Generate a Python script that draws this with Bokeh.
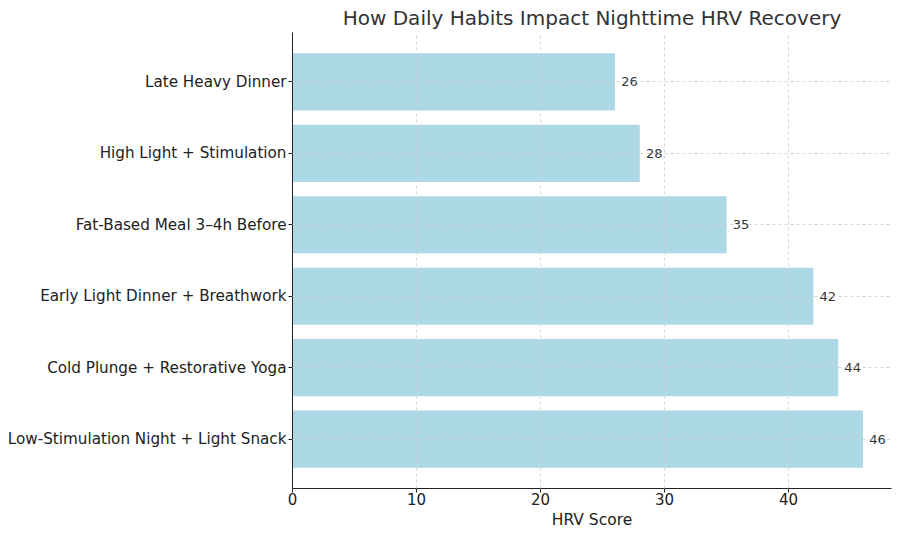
from bokeh.plotting import figure
from bokeh.models import FactorRange, Range1d, ColumnDataSource, FixedTicker
from bokeh.core.properties import value
from bokeh.embed import file_html
from bokeh.resources import INLINE

# Data (bottom to top)
categories = [
    "Low-Stimulation Night + Light Snack",
    "Cold Plunge + Restorative Yoga",
    "Early Light Dinner + Breathwork",
    "Fat-Based Meal 3\u20134h Before",
    "High Light + Stimulation",
    "Late Heavy Dinner",
]
hrv_scores = [46, 44, 42, 35, 28, 26]
x_ticks = [0, 10, 20, 30, 40]

FONT = "DejaVu Sans"

src = ColumnDataSource(dict(
    cat=categories,
    val=hrv_scores,
    lbl_x=[v + 0.5 for v in hrv_scores],
    lbl=[str(v) for v in hrv_scores],
))

p = figure(
    width=900, height=537,
    y_range=FactorRange(factors=categories, range_padding=0.0633, range_padding_units="percent"),
    x_range=Range1d(0, 48.3),
    output_backend="svg", toolbar_location=None,
    title="How Daily Habits Impact Nighttime HRV Recovery",
    min_border_left=292, min_border_right=9, min_border_top=32, min_border_bottom=49,
)
p.outline_line_color = None
p.background_fill_color = "white"

p.hbar(y="cat", right="val", left=0, height=0.8, source=src,
       fill_color="#add8e6", line_color=None)

p.text(x="lbl_x", y="cat", text="lbl", source=src,
       text_font=value(FONT), text_font_size="13px", text_color="#333333",
       text_baseline="middle", text_align="left")

# Title
p.title.text_font = FONT
p.title.text_font_size = "20px"
p.title.text_font_style = "normal"
p.title.text_color = "#333333"
p.title.align = "center"
p.title.offset = 0
p.title.standoff = 5

# Axes
p.xaxis.ticker = FixedTicker(ticks=x_ticks)
p.xaxis.axis_label = "HRV Score"
p.xaxis.axis_label_text_font = FONT
p.xaxis.axis_label_text_font_style = "normal"
p.xaxis.axis_label_text_font_size = "15.5px"
p.xaxis.axis_label_text_color = "#222222"
p.xaxis.axis_label_standoff = 3
for ax in (p.xaxis, p.yaxis):
    ax.major_label_text_font = FONT
    ax.major_label_text_color = "#222222"
    ax.axis_line_color = "#222222"
    ax.major_tick_line_color = "#222222"
    ax.major_tick_out = 4
    ax.major_tick_in = 0
    ax.minor_tick_line_color = None
p.xaxis.major_label_standoff = 0
p.yaxis.major_label_standoff = 2
p.xaxis.major_label_text_font_size = "15px"
p.yaxis.major_label_text_font_size = "15.2px"

# Grid on top of bars
for g in (p.xgrid, p.ygrid):
    g.grid_line_color = "#cccccc"
    g.grid_line_dash = "3 3"
    g.grid_line_width = 0.8
    g.level = "overlay"
p.xgrid.ticker = FixedTicker(ticks=x_ticks)

open("out.html", "w").write(file_html(p, INLINE))
